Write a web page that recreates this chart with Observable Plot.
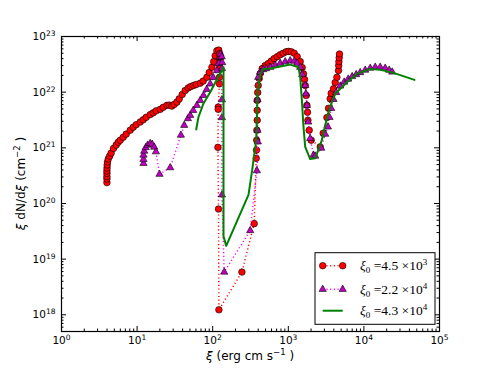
<!DOCTYPE html>
<html><head><meta charset="utf-8">
<script src="https://cdn.jsdelivr.net/npm/d3@7"></script>
<script src="https://cdn.jsdelivr.net/npm/@observablehq/plot@0.6"></script>
<style>
body{margin:0;background:#fff;}
svg{font-family:"DejaVu Sans",sans-serif;}
</style>
</head><body><div id="chart"></div>
<script>
// ---- data (xi in erg cm s^-1, xi dN/dxi in cm^-2) ----
const redXi=[3.99,3.99,3.99,3.99,3.99,4.00,4.02,4.06,4.15,4.34,4.54,4.87,5.29,5.62,5.98,6.55,7.17,8.11,8.88,9.73,10.99,12.04,13.19,14.91,16.33,17.89,20.21,22.14,24.79,26.59,28.86,30.96,33.61,36.06,39.51,43.27,47.42,51.17,55.72,60.49,68.35,74.85,83.83,89.88,97.6,103.1,107.9,113.6,120.1,123.8,123.8,123.0,123.0,123.0,123.0,118.3,118.3,117.2,119.3,120.8,243.4,353.9,376.2,379.6,381.9,384.3,387.8,387.8,387.8,393.7,399.8,412.1,424.9,451.6,494.9,542.2,593.9,650.8,713.2,781.5,856,938,1006,1092,1197,1311,1437,1527,1589,1638,1673,1725,1762,1795,1817,1890,2009,2642,2894,3240,3402,3583,3694,3962,4173,4395,4613,4642,4670,4713,4756];
const redN=[2.37e20,2.76e20,3.04e20,3.46e20,3.84e20,4.34e20,4.91e20,5.56e20,6.29e20,7.11e20,8.04e20,9.75e20,1.12e21,1.26e21,1.37e21,1.55e21,1.76e21,2.07e21,2.34e21,2.60e21,2.91e21,3.19e21,3.53e21,3.95e21,4.25e21,4.62e21,4.91e21,5.33e21,5.79e21,5.84e21,5.62e21,6.03e21,6.62e21,7.56e21,9.1e21,1.07e22,1.19e22,1.26e22,1.32e22,1.37e22,1.45e22,1.58e22,1.85e22,2.25e22,2.80e22,3.53e22,4.52e22,5.56e22,5.68e22,4.91e22,4.00e22,3.26e22,2.65e22,1.85e22,1.41e22,5.40e21,4.91e21,1.02e21,7.94e19,1.23e18,5.86e18,4.34e19,6.47e20,9.1e20,1.37e21,2.07e21,3.13e21,4.71e21,7.11e21,9.88e21,1.32e22,1.76e22,2.16e22,2.65e22,3.0e22,3.26e22,3.61e22,4.0e22,4.34e22,4.71e22,5.01e22,5.33e22,5.40e22,5.33e22,5.01e22,4.34e22,3.53e22,2.76e22,2.13e22,1.69e22,1.32e22,8.73e21,5.79e21,4.35e21,3.13e21,2.07e21,1.37e21,1.04e21,1.83e21,3.49e21,5.12e21,7.62e21,9.49e21,1.15e22,1.49e22,1.85e22,2.44e22,3.0e22,3.53e22,4.17e22,4.85e22];

const magXi=[12.15,12.15,12.15,12.41,12.99,13.81,14.91,15.84,16.83,17.73,19.79,27.41,37.96,41.98,46.99,50.41,55.22,61.8,68.35,75.56,83.30,92.67,101.5,113.6,120.1,125.7,126.8,131.5,133.6,132.4,132.4,132.4,132.4,141.9,313.3,384.3,396,391.3,391.3,399.8,424.9,465.6,510.3,576.4,670.9,781.5,910.1,1059,1197,1311,1437,1527,1673,1709,1762,1833,1948,2154,2269,2724,3077,3340,3508,3694,3962,4302,4860,5489,6199,7001,7908,8934,10400,12120,14110,16430,19130,21610,23670];
const magN=[5.26e20,6.21e20,7.41e20,8.73e20,1.01e21,1.12e21,1.20e21,1.16e21,1.03e21,8.49e20,3.35e20,4.40e20,1.69e21,2.54e21,3.35e21,3.84e21,4.71e21,5.79e21,7.11e21,8.73e21,1.12e22,1.41e22,1.83e22,2.44e22,3.26e22,4.22e22,4.85e22,4.34e22,3.39e22,2.65e22,7.31e21,3.49e21,1.43e20,5.86e18,3.26e19,3.88e20,1.28e21,2.07e21,7.31e21,1.85e22,2.28e22,2.54e22,2.65e22,2.80e22,3.06e22,3.32e22,3.53e22,3.68e22,3.61e22,3.32e22,2.80e22,2.07e22,1.32e22,9.36e21,5.79e21,2.91e21,1.47e21,7.41e20,7.11e20,9.88e20,1.76e21,2.37e21,3.53e21,5.12e21,7.41e21,9.88e21,1.29e22,1.52e22,1.72e22,1.91e22,2.07e22,2.25e22,2.49e22,2.70e22,2.82e22,2.82e22,2.70e22,2.49e22,2.30e22];

const grnXi=[60.49,64.9,75.56,92.67,113.6,132.4,139.0,139.0,150.9,297.5,333.1,376.2,384.3,391.3,424.9,469.9,576.4,1059,1364,1437,1513,1589,1673,1948,2269,2782,3077,3583,4173,5960,8081,12120,17300,24640,46700];
const grnN=[2.13e21,3.58e21,6.28e21,1.0e22,1.69e22,2.44e22,2.80e22,2.58e19,1.73e19,1.43e20,4.0e20,1.37e21,3.58e21,9.36e21,2.13e22,2.62e22,2.65e22,3.13e22,2.80e22,1.85e22,7.11e21,2.37e21,1.04e21,6.28e20,6.47e20,1.37e21,2.54e21,5.56e21,9.36e21,1.51e22,2.13e22,2.62e22,2.51e22,2.22e22,1.66e22];

const xMajor=[1,10,100,1000,10000,100000];
const yMajor=[1e18,1e19,1e20,1e21,1e22,1e23];
const legendMantissa=["4.5","2.2","4.3"];
const legendExp=["3","4","4"];

// ---- layout ----
const W=491,H=368,mt=36,mb=37,ml=61,mr=52;
const pw=W-ml-mr, ph=H-mt-mb;
const xDomain=[1,1e5], yDomain=[5.01e17,1e23];

const red=redXi.map((x,i)=>({x,y:redN[i]}));
const mag=magXi.map((x,i)=>({x,y:magN[i]}));
const grn=grnXi.map((x,i)=>({x,y:grnN[i]}));

const xs=d3.scaleLog().domain(xDomain), ys=d3.scaleLog().domain(yDomain);
const xMinor=xs.ticks().filter(v=>!xMajor.includes(v));
const yMinor=ys.ticks().filter(v=>!yMajor.includes(v));

const sup=d=>"10^"+Math.round(Math.log10(d));
const MAG="#c000c0";
const DOTS="1.1,2.6";

const chart=Plot.plot({
  width:W,height:H,marginTop:mt,marginBottom:mb,marginLeft:ml,marginRight:mr,
  style:{fontFamily:"DejaVu Sans",background:"white"},
  x:{type:"log",domain:xDomain},
  y:{type:"log",domain:yDomain},
  marks:[
    // data
    Plot.line(red,{x:"x",y:"y",stroke:"#ff0000",strokeWidth:1.5,strokeDasharray:DOTS,strokeLinecap:"butt"}),
    Plot.dot(red,{x:"x",y:"y",r:3.3,fill:"#ff0000",stroke:"black",strokeWidth:0.6}),
    Plot.line(mag,{x:"x",y:"y",stroke:"#ff00ff",strokeWidth:1.5,strokeDasharray:DOTS,strokeLinecap:"butt"}),
    Plot.dot(mag,{x:"x",y:"y",r:2.7,symbol:"triangle",fill:MAG,stroke:"black",strokeWidth:0.6}),
    Plot.line(grn,{x:"x",y:"y",stroke:"#008000",strokeWidth:2}),
    // inward ticks
    Plot.tickX(xMajor,{x:d=>d,insetTop:ph-5,stroke:"black"}),
    Plot.tickX(xMajor,{x:d=>d,insetBottom:ph-5,stroke:"black"}),
    Plot.tickX(xMinor,{x:d=>d,insetTop:ph-2.5,stroke:"black"}),
    Plot.tickX(xMinor,{x:d=>d,insetBottom:ph-2.5,stroke:"black"}),
    Plot.tickY(yMajor,{y:d=>d,insetRight:pw-5,stroke:"black"}),
    Plot.tickY(yMajor,{y:d=>d,insetLeft:pw-5,stroke:"black"}),
    Plot.tickY(yMinor,{y:d=>d,insetRight:pw-2.5,stroke:"black"}),
    Plot.tickY(yMinor,{y:d=>d,insetLeft:pw-2.5,stroke:"black"}),
    Plot.axisX(xMajor,{anchor:"bottom",tickSize:0,tickPadding:5,tickFormat:sup,label:null,fontSize:10.5,fill:"black"}),
    Plot.axisY(yMajor,{anchor:"left",tickSize:0,tickPadding:6,tickFormat:sup,label:null,fontSize:10.5,fill:"black"}),
    Plot.frame({stroke:"black",strokeWidth:1.2})
  ]
});
document.getElementById("chart").appendChild(chart);

const svg=d3.select(chart);
// superscript tick labels
svg.selectAll('g[aria-label="x-axis tick label"] text, g[aria-label="y-axis tick label"] text').each(function(){
  const t=this.textContent; const parts=t.split("^");
  const s=d3.select(this); s.text(null);
  s.append("tspan").text(parts[0]);
  s.append("tspan").attr("dy",-4).attr("font-size",7.5).text(parts[1]);
});

// axis titles
const yl=svg.append("text").attr("transform",`translate(25,${mt+ph/2}) rotate(-90)`)
  .attr("text-anchor","middle").attr("font-size",12).attr("fill","black");
yl.append("tspan").attr("font-style","italic").text("ξ");
yl.append("tspan").text(" dN/d");
yl.append("tspan").attr("font-style","italic").text("ξ");
yl.append("tspan").text(" (cm");
yl.append("tspan").attr("dy",-5).attr("font-size",8.5).text("−2");
yl.append("tspan").attr("dy",5).text(" )");

const xl=svg.append("text").attr("x",ml+pw/2).attr("y",360)
  .attr("text-anchor","middle").attr("font-size",12).attr("fill","black");
xl.append("tspan").attr("font-style","italic").text("ξ");
xl.append("tspan").text(" (erg cm s");
xl.append("tspan").attr("dy",-5).attr("font-size",8.5).text("−1");
xl.append("tspan").attr("dy",5).text(" )");

// legend
const lg=svg.append("g");
lg.append("rect").attr("x",315).attr("y",252.7).attr("width",120).attr("height",71.6)
  .attr("fill","white").attr("stroke","black").attr("stroke-width",1);
const rows=[265.7,289.3,310.7];
const lx0=322.7,lx1=342.7;
// red
lg.append("line").attr("x1",lx0).attr("x2",lx1).attr("y1",rows[0]).attr("y2",rows[0])
  .attr("stroke","#ff0000").attr("stroke-width",1.5).attr("stroke-dasharray",DOTS);
[lx0,lx1].forEach(x=>lg.append("circle").attr("cx",x).attr("cy",rows[0]).attr("r",3.3)
  .attr("fill","#ff0000").attr("stroke","black").attr("stroke-width",0.6));
// magenta
lg.append("line").attr("x1",lx0).attr("x2",lx1).attr("y1",rows[1]).attr("y2",rows[1])
  .attr("stroke","#ff00ff").attr("stroke-width",1.5).attr("stroke-dasharray",DOTS);
const tri=d3.symbol(d3.symbolTriangle,Math.PI*2.7*2.7);
[lx0,lx1].forEach(x=>lg.append("path").attr("d",tri()).attr("transform",`translate(${x},${rows[1]})`)
  .attr("fill",MAG).attr("stroke","black").attr("stroke-width",0.6));
// green
lg.append("line").attr("x1",lx0).attr("x2",lx1).attr("y1",rows[2]).attr("y2",rows[2])
  .attr("stroke","#008000").attr("stroke-width",2);
rows.forEach((y,i)=>{
  const t=lg.append("text").attr("x",360).attr("y",y+4.5).attr("text-anchor","start")
    .attr("font-family","'Liberation Serif', 'DejaVu Serif', serif").attr("font-size",13.5).attr("fill","black");
  t.append("tspan").attr("font-style","italic").text("ξ");
  t.append("tspan").attr("dy",3).attr("font-size",9).text("0");
  t.append("tspan").attr("dy",-3).text(" =" + legendMantissa[i] + " ×10");
  t.append("tspan").attr("dy",-5).attr("font-size",9).text(legendExp[i]);
});
</script>
</body></html>
